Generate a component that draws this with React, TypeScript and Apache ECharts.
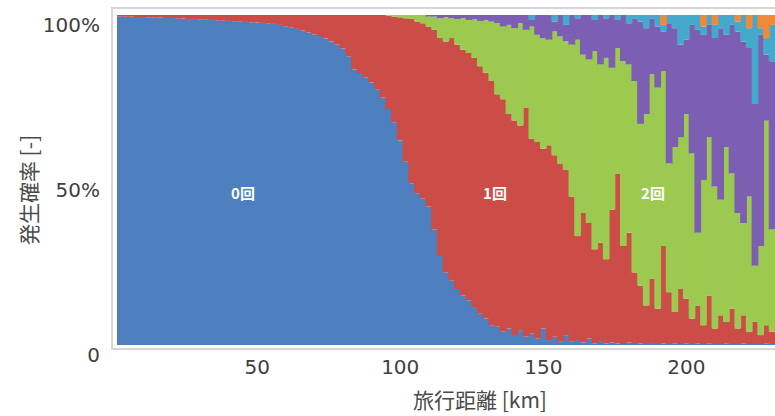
import React, { useEffect, useRef } from 'react';
import * as echarts from 'echarts';

// travel distance bins [km]
const distanceKm = [
  2, 4, 6, 8, 10, 12, 14, 16, 18, 20, 22, 24, 26, 28, 30, 32, 34, 36, 38, 40,
  42, 44, 46, 48, 50, 52, 54, 56, 58, 60, 62, 64, 66, 68, 70, 72, 74, 76, 78, 80,
  82, 84, 86, 88, 90, 92, 94, 96, 98, 100, 102, 104, 106, 108, 110, 112, 114, 116, 118, 120,
  122, 124, 126, 128, 130, 132, 134, 136, 138, 140, 142, 144, 146, 148, 150, 152, 154, 156, 158, 160,
  162, 164, 166, 168, 170, 172, 174, 176, 178, 180, 182, 184, 186, 188, 190, 192, 194, 196, 198, 200,
  202, 204, 206, 208, 210, 212, 214, 216, 218, 220, 222, 224, 226, 228, 230,
];

const xTickLabels = ['50', '100', '150', '200'];

// occurrence probability [%] per number of times
const times0 = [
  99.6, 99.5, 99.5, 99.4, 99.4, 99.3, 99.3, 99.2, 99.1, 99.1, 99.0, 98.9, 98.8, 98.8, 98.7, 98.6, 98.5, 98.4, 98.3, 98.2,
  98.1, 98.0, 97.9, 97.8, 97.7, 97.6, 97.5, 97.3,
  97.0, 96.6, 96.2, 95.8, 95.3, 94.7, 94.2, 93.6, 92.9, 92.0, 91.0, 89.8, 87.5, 83.5, 82.4, 81.0, 79.5, 77.5, 75.0,
  71.5, 67.5, 62.0, 55.5, 49.0, 46.0, 44.5, 42.0, 35.0, 27.0, 22.0, 19.5, 17.0, 15.0, 13.5, 11.5, 9.5, 8.0, 6.0, 5.5,
  4.0, 5.0, 3.0, 4.5, 2.5,
  3.5, 2.0, 5.0, 1.5, 2.5, 1.0, 3.0, 1.0, 1.5, 0.8, 2.0, 0.5, 1.2, 0.5, 0.8, 0.5, 0.3, 0.8, 0.3, 0.5, 0.3, 0.6, 0.3,
  0.5, 0.3, 0.5, 0.3, 0.4, 0.3, 0.5, 0.3, 0.4, 0.3, 0.3, 0.4, 0.3, 0.3, 0.4, 0.3, 0.3, 0.3, 0.4, 0.3,
];
const times1 = [
  0.4, 0.5, 0.5, 0.6, 0.6, 0.7, 0.7, 0.8, 0.9, 0.9, 1.0, 1.1, 1.2, 1.2, 1.3, 1.4, 1.5, 1.6, 1.7, 1.8,
  1.9, 2.0, 2.1, 2.2, 2.3, 2.4, 2.5, 2.7,
  3.0, 3.4, 3.8, 4.2, 4.7, 5.3, 5.8, 6.4, 7.1, 8.0, 9.0, 10.2, 12.5, 16.5, 17.6, 19.0, 20.5, 22.5, 25.0,
  28.3, 32.0, 37.3, 43.5, 49.8, 52.0, 53.0, 54.5, 60.5, 66.0, 70.0, 73.5, 74.0, 74.5, 75.0, 75.5, 75.0, 74.5, 74.0, 70.5,
  70.5, 65.0, 65.0, 62.0, 69.5,
  59.0, 59.5, 54.5, 59.0, 55.0, 54.0, 50.0, 44.0, 31.5, 39.2, 35.0, 28.5, 29.8, 25.5, 40.2, 51.5, 29.7, 33.2, 21.7, 17.5,
  11.7, 19.4, 10.7,
  29.5, 15.7, 9.5, 16.7, 13.6, 7.7, 11.5, 5.7, 14.6, 4.7, 8.7, 6.6, 10.7, 4.7, 8.6, 3.7, 6.7, 2.7, 5.6, 3.7,
];
const times2 = [
  0, 0, 0, 0, 0, 0, 0, 0, 0, 0, 0, 0, 0, 0, 0, 0, 0, 0, 0, 0,
  0, 0, 0, 0, 0, 0, 0, 0, 0, 0, 0, 0, 0, 0, 0, 0, 0, 0, 0, 0,
  0, 0, 0, 0, 0, 0, 0,
  0.2, 0.5, 0.7, 1.0, 1.2, 2.0, 2.5, 3.0, 4.0, 6.0, 7.3, 6.0, 7.8, 9.5, 10.0, 11.7, 13.7, 16.0, 18.0, 21.5,
  22.0, 27.0, 28.0, 31.0, 23.5,
  34.0, 32.5, 33.5, 32.0, 37.5, 38.5, 39.0, 46.0, 59.5, 48.0, 49.5, 60.0, 54.0, 61.0, 43.0, 38.0, 56.0, 51.0, 58.0, 49.0,
  58.0, 62.0, 67.0,
  53.0, 39.0, 50.0, 46.0, 56.0, 50.0, 22.0, 44.0, 48.0, 43.0, 35.0, 53.0, 41.0, 35.0, 28.0, 41.0, 17.0, 27.0, 62.0, 31.0,
];
const times3 = [
  0, 0, 0, 0, 0, 0, 0, 0, 0, 0, 0, 0, 0, 0, 0, 0, 0, 0, 0, 0,
  0, 0, 0, 0, 0, 0, 0, 0, 0, 0, 0, 0, 0, 0, 0, 0, 0, 0, 0, 0,
  0, 0, 0, 0, 0, 0, 0, 0, 0, 0, 0, 0, 0, 0,
  0.5, 0.5, 1.0, 0.7, 1.0, 1.2, 1.0, 1.5, 1.3, 1.8, 1.5, 2.0, 2.5, 3.5, 3.0, 4.0, 2.5, 4.5,
  2.0, 6.0, 7.0, 7.5, 3.0, 6.5, 5.0, 9.0, 6.5, 12.0, 13.5, 9.5, 15.0, 12.0, 16.0, 8.5, 14.0, 12.5, 19.0, 31.0,
  26.0, 17.0, 18.5,
  12.0, 42.5, 36.0, 28.0, 22.5, 39.0, 61.5, 44.0, 34.0, 45.0, 52.0, 34.0, 45.0, 55.0, 55.0, 45.0, 49.0, 64.0, 20.0, 51.0,
];
const times4 = [
  0, 0, 0, 0, 0, 0, 0, 0, 0, 0, 0, 0, 0, 0, 0, 0, 0, 0, 0, 0,
  0, 0, 0, 0, 0, 0, 0, 0, 0, 0, 0, 0, 0, 0, 0, 0, 0, 0, 0, 0,
  0, 0, 0, 0, 0, 0, 0, 0, 0, 0, 0, 0, 0, 0, 0, 0, 0, 0, 0, 0,
  0, 0, 0, 0, 0, 0, 0, 0, 0, 0, 0, 0,
  1.5, 0, 0, 0, 2.0, 0, 3.0, 0, 1.0, 0, 0, 1.5, 0, 1.0, 0, 1.5, 0, 2.5, 1.0, 2.0,
  4.0, 1.0, 3.5,
  2.0, 2.5, 4.0, 9.0, 7.5, 3.0, 4.5, 2.5, 3.0, 4.0, 4.0, 6.0, 3.0, 3.0, 8.0, 6.0, 27.0, 2.0, 5.0, 11.0,
];
const times5plus = [
  0, 0, 0, 0, 0, 0, 0, 0, 0, 0, 0, 0, 0, 0, 0, 0, 0, 0, 0, 0,
  0, 0, 0, 0, 0, 0, 0, 0, 0, 0, 0, 0, 0, 0, 0, 0, 0, 0, 0, 0,
  0, 0, 0, 0, 0, 0, 0, 0, 0, 0, 0, 0, 0, 0, 0, 0, 0, 0, 0, 0,
  0, 0, 0, 0, 0, 0, 0, 0, 0, 0, 0, 0, 0, 0, 0, 0, 0, 0, 0, 0,
  0, 0, 0, 0, 0, 0, 0, 0, 0, 0, 0, 0, 0, 0, 0,
  3.0, 0, 0, 0, 0, 0, 0, 3.5, 0, 3.0, 0, 0, 0, 2.0, 0, 4.0, 0, 4.0, 7.0, 3.0,
];

const seriesNames = ['0回', '1回', '2回', '3回', '4回', '5回以上'];
const seriesColors = ['#4e80bf', '#cc4c47', '#9cc94f', '#7c5fb3', '#45a9cc', '#f08a3a'];

export default function App() {
  const ref = useRef<HTMLDivElement>(null);
  useEffect(() => {
    if (!ref.current) return;
    const chart = echarts.init(ref.current, undefined, { renderer: 'svg' });
    const seriesData = [times0, times1, times2, times3, times4, times5plus];
    chart.setOption({
      animation: false,
      grid: { left: 117, right: 0, top: 15, bottom: 71, containLabel: false },
      xAxis: {
        type: 'category',
        data: distanceKm.map(String),
        axisLine: { show: false },
        axisTick: { show: false },
        axisLabel: {
          interval: (_i: number, v: string) => xTickLabels.includes(v),
          margin: 12,
          fontFamily: 'DejaVu Sans',
          fontSize: 20,
          color: '#404040',
        },
      },
      yAxis: {
        type: 'value',
        min: 0,
        max: 100,
        interval: 50,
        axisLine: { show: false },
        axisTick: { show: false },
        splitLine: { show: false },
        axisLabel: {
          formatter: (v: number) => (v === 0 ? '0' : v + '%'),
          margin: 17,
          verticalAlign: 'top',
          fontFamily: 'DejaVu Sans',
          fontSize: 20,
          color: '#404040',
        },
      },
      series: seriesNames.map((name, k) => ({
        name,
        type: 'bar',
        stack: 'p',
        barWidth: '118%',
        data: seriesData[k],
        itemStyle: { color: seriesColors[k], borderWidth: 0 },
      })),
      graphic: [
        {
          type: 'rect',
          shape: { x: 112, y: 8, width: 700, height: 341 },
          style: { fill: 'none', stroke: '#d6d6d6', lineWidth: 2 },
          z: -1,
        },
        {
          type: 'text',
          x: 480,
          y: 399,
          style: {
            text: '旅行距離 [km]',
            fontFamily: 'Noto Sans CJK JP',
            fontSize: 21,
            fill: '#4a4a4a',
            align: 'center',
            verticalAlign: 'middle',
          },
        },
        {
          type: 'text',
          x: 28,
          y: 190,
          rotation: Math.PI / 2,
          style: {
            text: '発生確率 [-]',
            fontFamily: 'Noto Sans CJK JP',
            fontSize: 21,
            fill: '#4a4a4a',
            align: 'center',
            verticalAlign: 'middle',
          },
        },
        {
          type: 'text',
          x: 243,
          y: 192,
          z: 10,
          style: { text: '0回', fontFamily: 'Noto Sans CJK JP', fontSize: 15, fontWeight: 'bold', fill: '#ffffff', align: 'center', verticalAlign: 'middle' },
        },
        {
          type: 'text',
          x: 495,
          y: 192,
          z: 10,
          style: { text: '1回', fontFamily: 'Noto Sans CJK JP', fontSize: 15, fontWeight: 'bold', fill: '#ffffff', align: 'center', verticalAlign: 'middle' },
        },
        {
          type: 'text',
          x: 653,
          y: 192,
          z: 10,
          style: { text: '2回', fontFamily: 'Noto Sans CJK JP', fontSize: 15, fontWeight: 'bold', fill: '#ffffff', align: 'center', verticalAlign: 'middle' },
        },
      ],
    });
    return () => chart.dispose();
  }, []);
  return (
    <div
      ref={ref}
      style={{ position: 'fixed', left: 0, top: 0, width: 775, height: 416, background: '#ffffff' }}
    />
  );
}
